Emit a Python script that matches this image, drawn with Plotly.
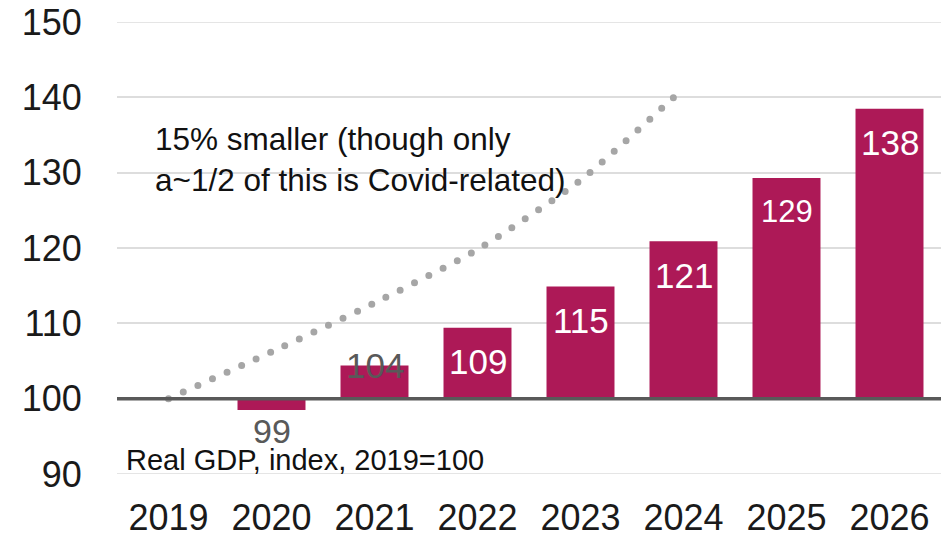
import plotly.graph_objects as go

years = ["2019", "2020", "2021", "2022", "2023", "2024", "2025", "2026"]
gdp_index = [100, 98.5, 104.4, 109.4, 114.9, 120.9, 129.3, 138.5]
bar_labels = ["", "99", "104", "109", "115", "121", "129", "138"]
trend_years = ["2019", "2020", "2021", "2022", "2023", "2024"]
trend_index = [100, 106.2, 112.7, 119.8, 129.0, 141.2]
y_ticks = [90, 100, 110, 120, 130, 140, 150]

BASE = 100
BAR_COLOR = "#AD1957"
GRID = "#DDDDDD"
FONT = "Liberation Sans, Arial, sans-serif"

pos = {yr: i for i, yr in enumerate(years)}
x_bar = [pos[y] for y in years]
x_trend = [pos[y] for y in trend_years]

fig = go.Figure()
fig.add_trace(go.Bar(
    x=x_bar, y=[v - BASE for v in gdp_index], base=BASE, width=0.66,
    marker=dict(color=BAR_COLOR, line=dict(width=0)),
    hoverinfo="skip", showlegend=False,
))
fig.add_trace(go.Scatter(
    x=x_trend, y=trend_index, mode="lines",
    line=dict(color="#A6A6A6", width=7, dash="0px,16px", shape="spline", smoothing=0.6),
    hoverinfo="skip", showlegend=False,
))

annotations = []
for xi, v, lab in zip(x_bar, gdp_index, bar_labels):
    if not lab:
        continue
    if v < BASE:
        color, shift, size = "#595959", -21, 34
    elif v - BASE < 6:
        color, shift, size = "#595959", 0, 35
    else:
        color, shift, size = "white", -34, 35
    if lab == "129":
        size = 31
    annotations.append(dict(x=xi, y=v, xref="x", yref="y", text=lab, showarrow=False,
                            yanchor="middle", xanchor="center", yshift=shift,
                            font=dict(family=FONT, size=size, color=color)))

annotations.append(dict(xref="paper", x=0.044, yref="y", y=131.7, xanchor="left", yanchor="middle",
                        align="left", showarrow=False,
                        text="15% smaller (though only<br>a~1/2 of this is Covid-related)",
                        font=dict(family=FONT, size=31.5, color="#111111")))
annotations.append(dict(xref="paper", x=0.009, yref="y", y=91.9, xanchor="left", yanchor="middle",
                        showarrow=False, text="Real GDP, index, 2019=100",
                        font=dict(family=FONT, size=29, color="#111111")))

shapes = [dict(type="line", xref="paper", x0=0, x1=1, yref="y", y0=t, y1=t,
               line=dict(color=GRID, width=1.5), layer="below") for t in (y_ticks[0], y_ticks[-1])]
shapes.append(dict(type="line", xref="paper", x0=0, x1=1, yref="y", y0=BASE, y1=BASE,
                   line=dict(color="#595959", width=3.5), layer="above"))

fig.update_layout(
    width=948, height=537,
    margin=dict(l=117, r=7, t=22, b=63, autoexpand=False),
    paper_bgcolor="white", plot_bgcolor="white",
    font=dict(family=FONT, color="#222222"),
    annotations=annotations,
    shapes=shapes,
)
fig.update_xaxes(range=[-0.5, len(years) - 0.5], tickvals=x_bar, ticktext=years,
                 showgrid=False, showline=False, zeroline=False,
                 ticks="outside", ticklen=12, tickcolor="rgba(0,0,0,0)",
                 tickfont=dict(family=FONT, size=36, color="#1a1a1a"))
fig.update_yaxes(range=[90, 150], tickvals=y_ticks, showgrid=True, gridcolor=GRID, gridwidth=1.5,
                 zeroline=False, showline=False,
                 ticks="outside", ticklen=27, tickcolor="rgba(0,0,0,0)",
                 tickfont=dict(family=FONT, size=36, color="#1a1a1a"))

post = ("var s=document.createElement('style');"
        "s.innerHTML='body{margin:0 !important;} .scatterlayer .js-line{stroke-linecap:round !important;}';"
        "document.head.appendChild(s);")
fig.write_html("out.html", post_script=post, config={"displayModeBar": False})
